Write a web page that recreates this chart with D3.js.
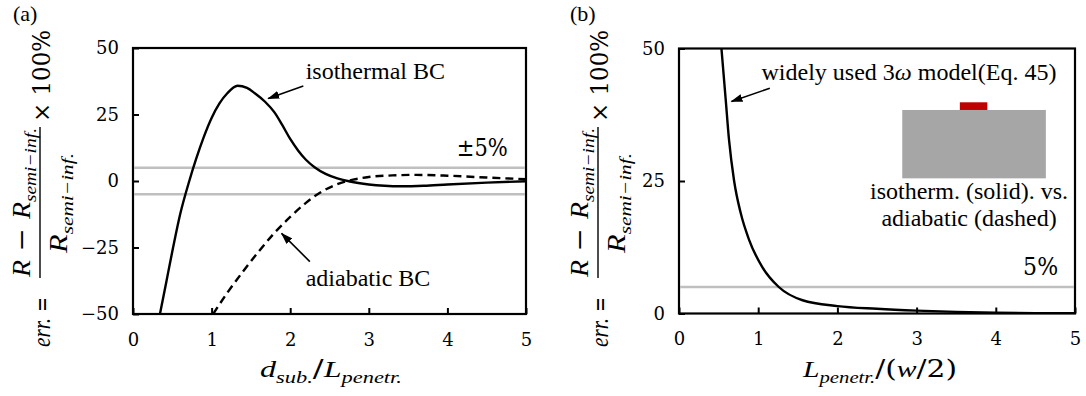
<!DOCTYPE html>
<html>
<head>
<meta charset="utf-8">
<script src="https://cdn.jsdelivr.net/npm/d3@7"></script>
<style>
body { margin: 0; background: #fff; }
svg text { font-family: "Liberation Serif", "Times New Roman", serif; fill: #000; }
</style>
</head>
<body>
<div id="chart"></div>
<script>
// ---- data ----
var xTicks = [0, 1, 2, 3, 4, 5];
var yTicksA = [-50, -25, 0, 25, 50];
var yTicksB = [0, 25, 50];

// (a) isothermal BC (solid)
var isoX = [0.343, 0.42, 0.51, 0.6, 0.716, 0.8, 0.9, 1.0, 1.1, 1.2, 1.33, 1.45, 1.55, 1.68, 1.8, 1.9, 2.0, 2.1, 2.2, 2.31, 2.45, 2.6, 2.76, 3.0, 3.2, 3.4, 3.7, 4.0, 4.5, 5.0];
var isoY = [-50, -38.5, -25, -12.5, 0, 8, 16.5, 23.7, 29.2, 33, 35.8, 35.0, 33.0, 29.8, 25.8, 21, 15.8, 11.5, 8, 5.2, 2.7, 1.0, -0.2, -1.3, -1.8, -2.0, -1.8, -1.3, -0.6, -0.1];

// (a) adiabatic BC (dashed)
var adiX = [1.02, 1.2, 1.4, 1.6, 1.8, 2.0, 2.2, 2.4, 2.6, 2.8, 3.0, 3.3, 3.6, 4.0, 4.5, 5.0];
var adiY = [-50, -42, -34, -26.5, -19.5, -13.5, -8.2, -4.0, -1.2, 0.5, 1.5, 2.1, 2.3, 2.0, 1.3, 0.7];

// (b) widely used 3w model
var modX = [0.536, 0.59, 0.632, 0.695, 0.78, 0.885, 1.05, 1.26, 1.56, 2.0, 2.5, 3.0, 3.5, 4.0, 4.5, 5.0];
var modY = [50, 40.3, 32.7, 25.1, 18.9, 13.9, 8.8, 5.0, 2.5, 1.4, 0.9, 0.55, 0.3, 0.15, 0.08, 0.05];

var bandA = [-5, 5];
var bandB = [5];

var serif = '"Liberation Serif", "Times New Roman", serif';
var mathUp = '"DejaVu Serif", "Liberation Serif", serif';

var svg = d3.select("#chart").append("svg")
    .attr("width", 1086).attr("height", 396)
    .style("background", "#fff");

var defs = svg.append("defs");
defs.append("marker")
    .attr("id", "arr")
    .attr("markerUnits", "userSpaceOnUse")
    .attr("markerWidth", 12).attr("markerHeight", 8)
    .attr("refX", 11).attr("refY", 4)
    .attr("orient", "auto")
    .append("path").attr("d", "M0,0 L12,4 L0,8 Z").attr("fill", "#000");

var xA = d3.scaleLinear().domain([0, 5]).range([133, 526]);
var yA = d3.scaleLinear().domain([-50, 50]).range([314, 48]);
var xB = d3.scaleLinear().domain([0, 5]).range([679, 1075]);
var yB = d3.scaleLinear().domain([0, 50]).range([313.5, 48.5]);

// text with italic / subscript / upright parts
function mathText(g, x, y, parts, size, len) {
    var t = g.append("text").attr("x", x).attr("y", y)
        .style("font-family", serif).style("font-size", size + "px");
    var shift = 0;
    parts.forEach(function(p) {
        var sp = t.append("tspan").text(p[0]);
        var target = p[1] == "s" ? size * 0.24 : 0;
        sp.attr("dy", target - shift);
        shift = target;
        if (p[1] != "u") sp.style("font-style", "italic");
        if (p[1] == "s") sp.style("font-size", (size * 0.7) + "px");
        if (p[1] == "u") sp.style("font-family", mathUp);
    });
    if (len) t.attr("textLength", len).attr("lengthAdjust", "spacingAndGlyphs");
    return t;
}

function label(g, x, y, size, str) {
    return g.append("text").attr("x", x).attr("y", y)
        .style("font-family", serif).style("font-size", size + "px").text(str);
}

function panel(x, y, yTicks, id) {
    var g = svg.append("g");
    var x0 = x.range()[0], x1 = x.range()[1], y0 = y.range()[0], y1 = y.range()[1];

    defs.append("clipPath").attr("id", "clip" + id)
        .append("rect").attr("x", x0).attr("y", y1).attr("width", x1 - x0).attr("height", y0 - y1);

    var ax = g.append("g").attr("transform", "translate(0," + y0 + ")")
        .call(d3.axisBottom(x).tickValues(xTicks).tickSizeInner(-6).tickSizeOuter(0)
            .tickPadding(19).tickFormat(d3.format("d")));
    ax.select(".domain").remove();
    ax.selectAll(".tick line").attr("stroke-width", 2);

    var ay = g.append("g").attr("transform", "translate(" + x0 + ",0)")
        .call(d3.axisLeft(y).tickValues(yTicks).tickSizeInner(-6).tickSizeOuter(0)
            .tickPadding(14).tickFormat(d3.format("d")));
    ay.select(".domain").remove();
    ay.selectAll(".tick line").attr("stroke-width", 2);

    g.selectAll(".tick text").style("font-family", mathUp).style("font-size", "18px");

    g.append("rect").attr("x", x0).attr("y", y1)
        .attr("width", x1 - x0).attr("height", y0 - y1)
        .attr("fill", "none").attr("stroke", "#000").attr("stroke-width", 2.2);
    return g;
}

function curve(g, x, y, xs, ys, id, dash) {
    var line = d3.line()
        .x(function(d) { return x(d[0]); })
        .y(function(d) { return y(d[1]); })
        .curve(d3.curveMonotoneX);
    g.append("path")
        .datum(d3.zip(xs, ys))
        .attr("clip-path", "url(#clip" + id + ")")
        .attr("d", line)
        .attr("fill", "none")
        .attr("stroke", "#000")
        .attr("stroke-width", 2.4)
        .attr("stroke-dasharray", dash);
}

function bands(g, x, y, vals) {
    g.selectAll(null).data(vals).enter().append("line")
        .attr("x1", x.range()[0] + 1).attr("x2", x.range()[1] - 1)
        .attr("y1", function(d) { return y(d); })
        .attr("y2", function(d) { return y(d); })
        .attr("stroke", "#bfbfbf").attr("stroke-width", 2.4);
}

function arrow(g, x, y, from, to) {
    g.append("line")
        .attr("x1", x(from[0])).attr("y1", y(from[1]))
        .attr("x2", x(to[0])).attr("y2", y(to[1]))
        .attr("stroke", "#000").attr("stroke-width", 1.6)
        .attr("marker-end", "url(#arr)");
}

function yLabel(cx) {
    var g = svg.append("g").attr("transform", "translate(" + cx + ",188) rotate(-90)");
    mathText(g, -159, 10, [["err.", "i"]], 25, 29);
    mathText(g, -124, 10, [["=", "u"]], 25, 15);
    g.append("line").attr("x1", -90).attr("x2", 61).attr("y1", 0).attr("y2", 0)
        .attr("stroke", "#000").attr("stroke-width", 1.4);
    mathText(g, -89, -10, [["R", "i"], [" − ", "u"], ["R", "i"], ["semi−inf.", "s"]], 25, 149);
    mathText(g, -65, 27, [["R", "i"], ["semi−inf.", "s"]], 25, 100);
    mathText(g, 66, 10, [["× 100%", "u"]], 25, 92);
}

// ---- panel (a) ----
var gA = panel(xA, yA, yTicksA, "A");
bands(gA, xA, yA, bandA);
curve(gA, xA, yA, isoX, isoY, "A", null);
curve(gA, xA, yA, adiX, adiY, "A", "8,5");

label(gA, xA(2.197), yA(38.3), 24, "isothermal BC");
arrow(gA, xA, yA, [2.167, 35.7], [1.72, 31.0]);
label(gA, xA(2.197), yA(-39.5), 24, "adiabatic BC");
arrow(gA, xA, yA, [2.25, -30.3], [1.89, -19.7]);
mathText(gA, xA(4.12), yA(9.4), [["±5%", "u"]], 25, 51);

yLabel(40);
mathText(svg, 260, 377, [["d", "i"], ["sub.", "s"], ["/", "u"], ["L", "i"], ["penetr.", "s"]], 24, 142);
label(svg, 13, 21, 22, "(a)");

// ---- panel (b) ----
var gB = panel(xB, yB, yTicksB, "B");
bands(gB, xB, yB, bandB);
curve(gB, xB, yB, modX, modY, "B", null);

var t1 = label(gB, xB(1.042), yB(44.1), 24, "");
t1.append("tspan").text("widely used 3");
t1.append("tspan").style("font-style", "italic").text("ω");
t1.append("tspan").text(" model(Eq. 45)");
arrow(gB, xB, yB, [1.147, 42.5], [0.662, 40.0]);

gB.append("rect")
    .attr("x", xB(2.819)).attr("y", yB(38.4))
    .attr("width", xB(4.632) - xB(2.819)).attr("height", yB(25.5) - yB(38.4))
    .attr("fill", "#a6a6a6");
gB.append("rect")
    .attr("x", xB(3.546)).attr("y", yB(39.85))
    .attr("width", xB(3.893) - xB(3.546)).attr("height", yB(38.4) - yB(39.85))
    .attr("fill", "#c00000");
label(gB, xB(3.662), yB(21.6), 24, "isotherm. (solid). vs.").attr("text-anchor", "middle");
label(gB, xB(3.662), yB(16.5), 24, "adiabatic (dashed)").attr("text-anchor", "middle");
mathText(gB, xB(4.345), yB(7.3), [["5%", "u"]], 25, 35);

yLabel(598);
mathText(svg, 803, 377, [["L", "i"], ["penetr.", "s"], ["/(", "u"], ["w", "i"], ["/2)", "u"]], 24, 154);
label(svg, 570, 21, 22, "(b)");
</script>
</body>
</html>
